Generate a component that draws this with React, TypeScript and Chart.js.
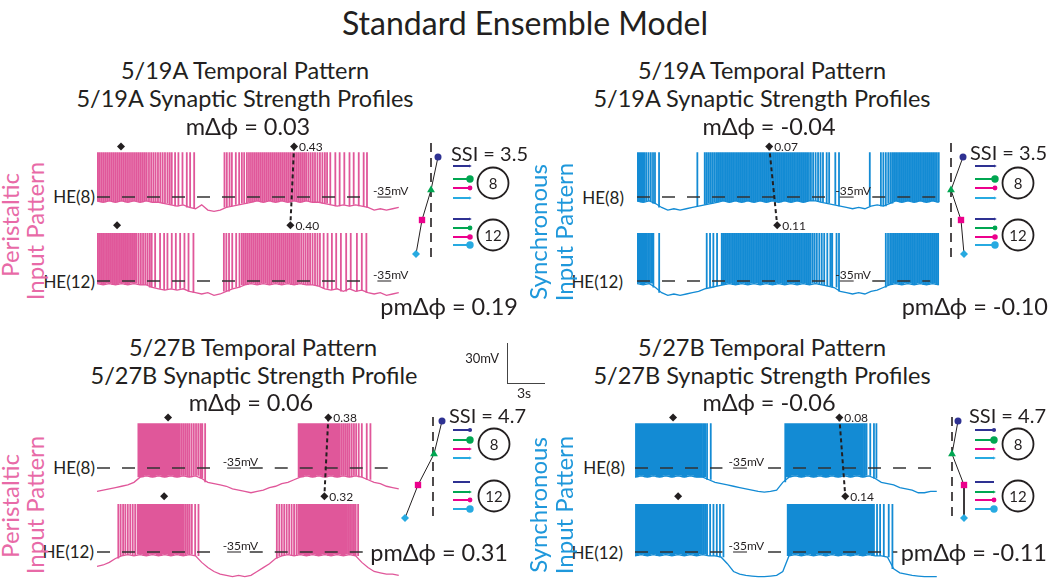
import React, { useEffect, useRef } from "react";
import { Chart, registerables } from "chart.js";
Chart.register(...registerables);

const FONT = "Lato, 'Noto Sans', 'DejaVu Sans', sans-serif";
const INK = "#231f20";
const PINK = "#e0579a";
const BLUE = "#138bd4";
const PINK_TXT = "#e86aa7";
const BLUE_TXT = "#1f98db";
const NAVY = "#2e3192";
const GREEN = "#00a651";
const MAGENTA = "#ec008c";
const CYAN = "#27aae1";

// ---------- trace data (time in s, membrane potential in mV) ----------
const DT = 0.5; // baseline sampling step (s)
const T_END = 24.6;
const REST = -35;
const HE12_OFFSET = 64.6;
const PEAK8 = -0.5;
const PEAK12 = 2;
const MARK8 = 4;
const MARK12 = 8;

// 5/19A peristaltic
const tlHe8Spikes = [0.05,0.2,0.36,0.52,0.68,0.84,1.0,1.16,1.32,1.48,1.64,1.8,1.96,2.12,2.28,2.44,2.6,2.76,2.92,3.08,3.24,3.4,3.56,3.72,3.88,4.04,4.22,4.4,4.58,4.76,4.95,5.14,5.33,5.52,5.72,5.9,6.07,6.34,6.61,6.94,7.29,7.56,7.89,10.35,10.54,10.76,10.95,11.27,11.54,11.76,11.95,12.17,12.34,12.5,12.66,12.82,12.98,13.14,13.3,13.46,13.62,13.78,13.94,14.1,14.26,14.42,14.58,14.74,14.9,15.06,15.22,15.38,15.54,15.7,15.86,16.02,16.18,16.34,16.5,16.66,16.82,16.98,17.16,17.34,17.52,17.7,17.9,18.1,18.3,18.5,18.68,18.94,19.35,19.7,20.08,20.5,20.84,21.25,21.65,21.92];
const tlHe8Base = [-38,-39,-38,-39,-38,-39,-38,-39,-38,-39,-39,-40,-41,-42,-41,-43,-44,-41,-45,-46,-45,-43,-42,-41,-40,-39,-38,-39,-38,-39,-38,-39,-38,-39,-38,-39,-39,-40,-41,-42,-41,-42,-41,-42,-43,-45,-44,-45,-44,-43];
const tlHe12Spikes = [0.05,0.2,0.35,0.5,0.65,0.8,0.95,1.1,1.25,1.4,1.55,1.7,1.85,2.0,2.15,2.3,2.45,2.6,2.75,2.9,3.05,3.2,3.38,3.56,3.74,3.92,4.1,4.28,4.44,4.72,5.12,5.45,5.72,6.07,6.4,6.75,7.1,7.43,7.83,10.3,10.5,10.72,10.98,11.3,11.57,11.76,11.92,12.08,12.24,12.4,12.56,12.72,12.88,13.04,13.2,13.36,13.52,13.68,13.84,14.0,14.16,14.32,14.48,14.64,14.8,14.96,15.12,15.28,15.44,15.6,15.76,15.92,16.08,16.24,16.4,16.58,16.76,16.94,17.12,17.3,17.5,17.7,17.9,18.1,18.4,18.72,19.07,19.42,19.8,20.23,20.6,21.1,21.5,21.87];
const tlHe12Base = [-37,-38,-37,-38,-37,-38,-37,-38,-38,-40,-41,-42,-41,-42,-41,-43,-44,-45,-44,-46,-45,-43,-41,-40,-38,-37,-38,-37,-38,-37,-38,-37,-38,-37,-38,-38,-39,-41,-42,-41,-43,-41,-43,-42,-44,-45,-44,-46,-45,-44];

// 5/19A synchronous
const trHe8Spikes = [0.05,0.18,0.32,0.46,0.6,0.76,0.94,1.12,1.3,1.46,1.79,4.9,5.5,5.66,5.82,5.98,6.14,6.3,6.46,6.61,6.76,6.91,7.06,7.21,7.36,7.51,7.66,7.81,7.96,8.11,8.26,8.41,8.56,8.71,8.86,9.01,9.16,9.31,9.46,9.61,9.76,9.91,10.06,10.21,10.36,10.51,10.66,10.81,10.96,11.11,11.26,11.41,11.56,11.71,11.86,12.01,12.16,12.31,12.46,12.61,12.76,12.91,13.06,13.21,13.36,13.51,13.66,13.81,13.96,14.12,14.3,14.5,14.7,14.9,15.1,15.4,15.6,16.1,16.4,18.9,19.8,20.0,20.2,20.4,20.58,20.74,20.89,21.04,21.19,21.34,21.49,21.64,21.79,21.94,22.09,22.24,22.39,22.54,22.69,22.84,22.99,23.14,23.29,23.44,23.59,23.74,23.89,24.04,24.19,24.34,24.5];
const trHe8Base = [-38,-39,-38,-40,-43,-45,-44,-45,-44,-43,-42,-41,-40,-39,-38,-39,-38,-39,-38,-39,-38,-39,-38,-39,-38,-39,-38,-39,-38,-38,-39,-40,-41,-42,-43,-44,-43,-44,-42,-41,-42,-40,-38,-39,-38,-39,-38,-39,-38,-39];
const trHe12Spikes = [0.05,0.19,0.33,0.47,0.61,0.75,0.9,1.05,1.2,1.33,1.8,5.66,5.93,6.2,6.5,6.88,7.03,7.18,7.33,7.48,7.63,7.78,7.93,8.08,8.23,8.38,8.53,8.68,8.83,8.98,9.13,9.28,9.43,9.58,9.73,9.88,10.03,10.18,10.33,10.48,10.63,10.78,10.93,11.08,11.23,11.38,11.53,11.68,11.83,11.98,12.13,12.28,12.43,12.58,12.73,12.88,13.03,13.18,13.33,13.48,13.63,13.78,13.93,14.08,14.25,14.42,14.6,14.8,15.0,15.2,15.45,15.7,15.85,16.2,16.4,20.2,20.38,20.55,20.7,20.85,21.0,21.15,21.3,21.45,21.6,21.75,21.9,22.05,22.2,22.35,22.5,22.65,22.8,22.95,23.1,23.25,23.4,23.55,23.7,23.85,24.0,24.15,24.3,24.45];
const trHe12Base = [-37,-38,-37,-40,-44,-46,-45,-46,-45,-44,-43,-41,-40,-39,-38,-37,-38,-37,-38,-37,-38,-37,-38,-37,-38,-37,-38,-37,-38,-37,-38,-39,-40,-43,-44,-45,-44,-45,-43,-42,-40,-38,-37,-38,-37,-38,-37,-38,-37,-38];

// 5/27B peristaltic
const blHe8Spikes = [3.36,3.5,3.62,3.74,3.86,3.98,4.1,4.22,4.34,4.46,4.58,4.7,4.82,4.94,5.06,5.18,5.3,5.42,5.54,5.66,5.78,5.9,6.02,6.14,6.28,6.42,6.56,6.7,6.86,7.02,7.18,7.34,7.5,7.68,7.86,8.04,8.22,8.4,8.55,8.78,16.37,16.5,16.62,16.74,16.86,16.98,17.1,17.22,17.34,17.46,17.58,17.7,17.82,17.94,18.06,18.18,18.3,18.42,18.54,18.66,18.78,18.9,19.02,19.14,19.28,19.42,19.56,19.7,19.86,20.02,20.18,20.34,20.5,20.68,20.86,21.04,21.25,21.5,21.9,22.2];
const blHe8Base = [-53,-52,-51,-50,-49,-48,-46,-42,-41,-42,-41,-42,-41,-42,-41,-42,-41,-43,-46,-47,-48,-49,-51,-52,-53,-54,-53,-52,-50,-49,-47,-46,-44,-42,-41,-42,-41,-42,-41,-42,-41,-42,-41,-42,-44,-46,-47,-49,-50,-51];
const blHe12Spikes = [1.73,1.92,2.12,2.3,2.5,2.7,2.9,3.1,3.3,3.42,3.54,3.66,3.78,3.9,4.02,4.14,4.26,4.38,4.5,4.62,4.74,4.86,4.98,5.1,5.22,5.34,5.46,5.58,5.7,5.82,5.94,6.06,6.18,6.3,6.42,6.54,6.66,6.78,6.9,7.04,7.2,7.36,7.52,7.7,7.97,8.24,14.6,14.8,15.0,15.2,15.4,15.6,15.8,16.0,16.2,16.37,16.49,16.61,16.73,16.85,16.97,17.09,17.21,17.33,17.45,17.57,17.69,17.81,17.93,18.05,18.17,18.29,18.41,18.53,18.65,18.77,18.89,19.01,19.13,19.25,19.37,19.49,19.61,19.73,19.85,19.97,20.11,20.25,20.4,20.55,20.7,20.85,21.0,21.2];
const blHe12Base = [-46,-45,-43,-40,-38,-37,-38,-37,-38,-37,-38,-37,-38,-37,-38,-37,-38,-43,-47,-50,-52,-53,-54,-53,-54,-53,-50,-47,-44,-40,-38,-37,-38,-37,-38,-37,-38,-37,-38,-37,-38,-37,-38,-43,-47,-50,-51,-52,-52,-53];

// 5/27B synchronous
const brHe8Spikes = [0.08,0.22,0.36,0.5,0.64,0.78,0.92,1.06,1.2,1.34,1.48,1.62,1.76,1.9,2.04,2.18,2.32,2.46,2.6,2.74,2.88,3.02,3.16,3.3,3.44,3.58,3.72,3.86,4.0,4.14,4.28,4.42,4.56,4.7,4.84,4.98,5.12,5.26,5.4,5.55,5.69,5.85,6.15,12.2,12.34,12.48,12.62,12.76,12.9,13.04,13.18,13.32,13.46,13.6,13.74,13.88,14.02,14.16,14.3,14.44,14.58,14.72,14.86,15.0,15.14,15.28,15.42,15.56,15.7,15.84,15.98,16.12,16.26,16.4,16.54,16.68,16.82,16.96,17.1,17.24,17.38,17.52,17.66,17.8,17.94,18.08,18.22,18.36,18.5,18.65,18.8,19.1,19.4,19.6];
const brHe8Base = [-42,-41,-42,-41,-42,-41,-42,-41,-42,-41,-42,-42,-44,-46,-47,-48,-49,-50,-51,-52,-53,-53.5,-53,-52,-46,-42,-41,-42,-41,-42,-41,-42,-41,-42,-41,-42,-41,-42,-41,-43,-46,-47,-48,-50,-51,-52,-54,-54,-53,-53];
const brHe12Spikes = [0.08,0.22,0.36,0.5,0.64,0.78,0.92,1.06,1.2,1.34,1.48,1.62,1.76,1.9,2.04,2.18,2.32,2.46,2.6,2.74,2.88,3.02,3.16,3.3,3.44,3.58,3.72,3.86,4.0,4.14,4.28,4.42,4.56,4.7,4.84,4.98,5.12,5.26,5.4,5.55,5.7,5.85,6.1,6.37,6.64,6.9,7.18,12.4,12.54,12.68,12.82,12.96,13.1,13.24,13.38,13.52,13.66,13.8,13.94,14.08,14.22,14.36,14.5,14.64,14.78,14.92,15.06,15.2,15.34,15.48,15.62,15.76,15.9,16.04,16.18,16.32,16.46,16.6,16.74,16.88,17.02,17.16,17.3,17.44,17.58,17.72,17.86,18.0,18.14,18.28,18.42,18.56,18.7,18.84,18.98,19.12,19.26,19.4,19.65,19.9,20.2,20.6,20.9];
const brHe12Base = [-38,-37,-38,-37,-38,-37,-38,-37,-38,-37,-38,-37,-38,-38,-39,-44,-50,-52,-53,-53.5,-54,-54,-53.5,-53,-50,-38,-37,-38,-37,-38,-37,-38,-37,-38,-37,-38,-37,-38,-37,-38,-38,-39,-48,-51,-52,-53,-53.5,-54,-54,-54];

// burst-phase markers (s)
const tlMarks8 = [1.95]; const tlMarks12 = [1.63];
const trMarks8: number[] = []; const trMarks12: number[] = [];
const blMarks8 = [5.77]; const blMarks12 = [5.45];
const brMarks8 = [3.09]; const brMarks12 = [3.5];
const tlPhaseT = [16.0, 15.7]; const tlPhaseVal = [0.43, 0.40];
const trPhaseT = [10.73, 11.38]; const trPhaseVal = [0.07, 0.11];
const blPhaseT = [18.78, 18.46]; const blPhaseVal = [0.38, 0.32];
const brPhaseT = [16.59, 17.07]; const brPhaseVal = [0.08, 0.14];

// -35 mV reference segments (s)
const tlRef8 = [[0, 21.6]]; const tlRef12 = [[0, 21.6]];
const trRef8 = [[0, 15.5], [19.1, 24.6]]; const trRef12 = [[0, 15.5], [19.1, 23.8]];
const blRef8 = [[0, 9.6], [12.4, 23.8]]; const blRef12 = [[0, 9.6], [12.4, 21.6]];
const brRef8 = [[0, 7.1], [10.8, 24.4]]; const brRef12 = [[0, 7.1], [10.8, 21.3]];

// input phases relative to the reference input – navy, green, magenta, cyan
const phaseTL = [0.07, 0, -0.09, -0.15];
const phaseTR = [0.12, 0, 0.10, 0.13];
const phaseBL = [0.09, 0.01, -0.15, -0.28];
const phaseBR = [0.06, 0, 0.12, 0.12];
// relative synaptic strengths onto HE(8) / HE(12)
const syn519He8 = [0.15, 1.0, 0.45, 0.15];
const syn519He12 = [0.15, 0.45, 0.6, 1.0];
const syn527He8 = [0.3, 1.0, 0.2, 0.2];
const syn527He12 = [0, 0.2, 0.45, 1.0];

// ---------- helpers ----------
function baseLine(base: number[], off: number) {
  return base.map((v, i) => ({ x: i * DT, y: v + off }));
}
function spikeLines(spk: number[], base: number[], peak: number, off: number) {
  const pts: any[] = [];
  spk.forEach((s) => {
    const b = base[Math.min(base.length - 1, Math.max(0, Math.round(s / DT)))] + off;
    pts.push({ x: s, y: b }, { x: s, y: peak + off }, { x: s, y: null });
  });
  return pts;
}
function refLine(segs: number[][], off: number) {
  const pts: any[] = [];
  segs.forEach(([a, b]) => {
    pts.push({ x: a, y: REST + off }, { x: b, y: REST + off }, { x: b, y: null });
  });
  return pts;
}

const PX_PER_S = 303 / T_END;
const TRACE_W = 335, TRACE_H = 178, Y_MAX = 12, Y_MIN = -125;

type TraceCfg = {
  left: number; top: number; color: string;
  spk8: number[]; base8: number[]; spk12: number[]; base12: number[];
  marks8: number[]; marks12: number[]; phT: number[]; phV: number[];
  ref8: number[][]; ref12: number[][]; mvT: number;
};

const baseOpts = {
  animation: false, responsive: true, maintainAspectRatio: false, events: [],
  layout: { padding: 0, autoPadding: false },
  plugins: { legend: { display: false }, tooltip: { enabled: false } },
};

function TraceChart({ cfg }: { cfg: TraceCfg }) {
  const ref = useRef<HTMLCanvasElement>(null);
  useEffect(() => {
    const off12 = -HE12_OFFSET;
    const labelPlugin = {
      id: "traceText",
      afterDatasetsDraw(chart: any) {
        const { ctx, scales } = chart;
        const x = scales.x, y = scales.y;
        ctx.save();
        ctx.fillStyle = INK;
        ctx.font = `12px ${FONT}`;
        ctx.textAlign = "left";
        ctx.textBaseline = "middle";
        ctx.fillText(cfg.phV[0].toFixed(2), x.getPixelForValue(cfg.phT[0]) + 5, y.getPixelForValue(MARK8) + 1);
        ctx.fillText(cfg.phV[1].toFixed(2), x.getPixelForValue(cfg.phT[1]) + 5, y.getPixelForValue(MARK12 + off12) + 1);
        ctx.textBaseline = "alphabetic";
        [0, off12].forEach((o) => {
          const px = x.getPixelForValue(cfg.mvT);
          const py = y.getPixelForValue(REST + o);
          const w1 = ctx.measureText("-").width;
          const w2 = ctx.measureText("35").width;
          ctx.fillText("-35mV", px, py - 2);
          ctx.fillRect(px + w1, py - 0.5, w2, 1);
        });
        ctx.restore();
      },
    };
    const dashColor = "#333";
    const datasets: any[] = [
      { data: refLine(cfg.ref8, 0), borderColor: dashColor, borderWidth: 1.6, borderDash: [13, 12], pointRadius: 0, spanGaps: false, order: 1 },
      { data: refLine(cfg.ref12, off12), borderColor: dashColor, borderWidth: 1.6, borderDash: [13, 12], pointRadius: 0, spanGaps: false, order: 1 },
      { data: [{ x: cfg.phT[0], y: MARK8 }, { x: cfg.phT[1], y: MARK12 + off12 }], borderColor: INK, borderWidth: 2, borderDash: [4, 3], pointRadius: 4, pointStyle: "rectRot", pointBackgroundColor: INK, pointBorderWidth: 0, order: 0 },
      { data: [...cfg.marks8.map((t) => ({ x: t, y: MARK8 })), ...cfg.marks12.map((t) => ({ x: t, y: MARK12 + off12 }))], showLine: false, pointRadius: 4, pointStyle: "rectRot", pointBackgroundColor: INK, pointBorderWidth: 0, order: 0 },
      { data: spikeLines(cfg.spk8, cfg.base8, PEAK8, 0), borderColor: cfg.color, borderWidth: 1.8, pointRadius: 0, spanGaps: false, order: 2 },
      { data: spikeLines(cfg.spk12, cfg.base12, PEAK12, off12), borderColor: cfg.color, borderWidth: 1.8, pointRadius: 0, spanGaps: false, order: 2 },
      { data: baseLine(cfg.base8, 0), borderColor: cfg.color, borderWidth: 1.3, pointRadius: 0, tension: 0, order: 3 },
      { data: baseLine(cfg.base12, off12), borderColor: cfg.color, borderWidth: 1.3, pointRadius: 0, tension: 0, order: 3 },
    ];
    const chart = new Chart(ref.current as HTMLCanvasElement, {
      type: "line",
      data: { datasets },
      options: {
        ...baseOpts,
        scales: {
          x: { type: "linear", min: 0, max: TRACE_W / PX_PER_S, display: false },
          y: { type: "linear", min: Y_MIN, max: Y_MAX, display: false },
        },
      } as any,
      plugins: [labelPlugin],
    });
    return () => chart.destroy();
  }, []);
  return (
    <div style={{ position: "absolute", left: cfg.left, top: cfg.top, width: TRACE_W, height: TRACE_H }}>
      <canvas ref={ref} />
    </div>
  );
}

type DiagLayout = { dash: number[]; rows: number[]; arr8: number[]; arr12: number[]; circ: number[] };
const TOP_LAY: DiagLayout = { dash: [5, 122], rows: [19, 52, 82, 116], arr8: [28, 41, 50, 60], arr12: [81, 90, 99, 107], circ: [45, 97] };
const BOT_LAY: DiagLayout = { dash: [5, 110], rows: [9, 42, 73, 106], arr8: [18, 28, 37, 46], arr12: [70, 80, 88, 97], circ: [32, 84] };

function Diagram({ left, top, phase, syn8, syn12, lay, xs }: any) {
  const ref = useRef<HTMLCanvasElement>(null);
  useEffect(() => {
    const cols = [NAVY, GREEN, MAGENTA, CYAN];
    const arrow = (row: number, s: number, c: string) => ({
      data: [{ x: xs.a0, y: row }, { x: xs.a1, y: row }],
      borderColor: c, borderWidth: 2,
      pointRadius: [0, s > 0 ? 1.4 + 2.3 * s : 0],
      pointStyle: s < 0.25 ? "triangle" : "circle",
      pointRotation: 90,
      pointBackgroundColor: c, pointBorderWidth: 0, order: 1,
    });
    const datasets: any[] = [
      { data: [{ x: 0, y: lay.dash[0] }, { x: 0, y: lay.dash[1] }], borderColor: INK, borderWidth: 1.6, borderDash: [9, 6], pointRadius: 0, order: 3 },
      {
        data: phase.map((p: number, i: number) => ({ x: p, y: lay.rows[i] })),
        borderColor: INK, borderWidth: 1,
        pointStyle: ["circle", "triangle", "rect", "rectRot"], pointRadius: [3.5, 4.5, 4.5, 4],
        pointBackgroundColor: cols, pointBorderWidth: 0, order: 0,
      },
      ...syn8.map((s: number, i: number) => arrow(lay.arr8[i], s, cols[i])),
      ...syn12.map((s: number, i: number) => arrow(lay.arr12[i], s, cols[i])),
      { data: [{ x: xs.c, y: lay.circ[0] }, { x: xs.c, y: lay.circ[1] }], showLine: false, pointRadius: 15.5, pointBackgroundColor: "rgba(0,0,0,0)", pointBorderColor: INK, pointBorderWidth: 1.8, order: 2 },
    ];
    const circPlugin = {
      id: "circText",
      afterDatasetsDraw(chart: any) {
        const { ctx, scales } = chart;
        ctx.save();
        ctx.fillStyle = INK;
        ctx.font = `15px ${FONT}`;
        ctx.textAlign = "center";
        ctx.textBaseline = "middle";
        ["8", "12"].forEach((t, i) => ctx.fillText(t, scales.x.getPixelForValue(xs.c), scales.y.getPixelForValue(lay.circ[i]) + 1));
        ctx.restore();
      },
    };
    const chart = new Chart(ref.current as HTMLCanvasElement, {
      type: "line",
      data: { datasets },
      options: {
        ...baseOpts,
        scales: {
          x: { type: "linear", min: -0.35, max: 0.85, display: false },
          y: { type: "linear", min: 0, max: 130, reverse: true, display: false },
        },
      } as any,
      plugins: [circPlugin],
    });
    return () => chart.destroy();
  }, []);
  return (
    <div style={{ position: "absolute", left, top, width: 120, height: 130 }}>
      <canvas ref={ref} />
    </div>
  );
}

function Txt({ x, y, size, color = INK, align = "center", rot = false, children }: any) {
  const tx = align === "center" ? "-50%" : align === "right" ? "-100%" : "0";
  return (
    <div
      style={{
        position: "absolute", left: x, top: y, fontSize: size, color, lineHeight: 1,
        whiteSpace: "nowrap", fontFamily: FONT,
        transform: `translate(${tx},-50%)${rot ? " rotate(-90deg)" : ""}`,
      }}
    >
      {children}
    </div>
  );
}

const PHI = "m\u0394\u03D5";

export default function App() {
  const panels: TraceCfg[] = [
    { left: 97, top: 136, color: PINK, spk8: tlHe8Spikes, base8: tlHe8Base, spk12: tlHe12Spikes, base12: tlHe12Base, marks8: tlMarks8, marks12: tlMarks12, phT: tlPhaseT, phV: tlPhaseVal, ref8: tlRef8, ref12: tlRef12, mvT: 22.4 },
    { left: 637, top: 136, color: BLUE, spk8: trHe8Spikes, base8: trHe8Base, spk12: trHe12Spikes, base12: trHe12Base, marks8: trMarks8, marks12: trMarks12, phT: trPhaseT, phV: trPhaseVal, ref8: trRef8, ref12: trRef12, mvT: 16.1 },
    { left: 97, top: 407, color: PINK, spk8: blHe8Spikes, base8: blHe8Base, spk12: blHe12Spikes, base12: blHe12Base, marks8: blMarks8, marks12: blMarks12, phT: blPhaseT, phV: blPhaseVal, ref8: blRef8, ref12: blRef12, mvT: 10.2 },
    { left: 635, top: 407, color: BLUE, spk8: brHe8Spikes, base8: brHe8Base, spk12: brHe12Spikes, base12: brHe12Base, marks8: brMarks8, marks12: brMarks12, phT: brPhaseT, phV: brPhaseVal, ref8: brRef8, ref12: brRef12, mvT: 7.6 },
  ];
  const H = 23.5, HE = 17, PM = 23.5, SSI = 20, SIDE = 24;
  return (
    <div style={{ position: "absolute", left: 0, top: 0, width: 1050, height: 579, overflow: "hidden", background: "#fff", fontFamily: FONT }}>
      {panels.map((p, i) => <TraceChart key={i} cfg={p} />)}
      <Diagram left={396} top={138} phase={phaseTL} syn8={syn519He8} syn12={syn519He12} lay={TOP_LAY} xs={{ a0: 0.22, a1: 0.39, c: 0.62 }} />
      <Diagram left={916} top={138} phase={phaseTR} syn8={syn519He8} syn12={syn519He12} lay={TOP_LAY} xs={{ a0: 0.24, a1: 0.44, c: 0.67 }} />
      <Diagram left={398} top={412} phase={phaseBL} syn8={syn527He8} syn12={syn527He12} lay={BOT_LAY} xs={{ a0: 0.2, a1: 0.37, c: 0.61 }} />
      <Diagram left={917} top={412} phase={phaseBR} syn8={syn527He8} syn12={syn527He12} lay={BOT_LAY} xs={{ a0: 0.23, a1: 0.42, c: 0.66 }} />

      <Txt x={525} y={23} size={32}>Standard Ensemble Model</Txt>

      <Txt x={245} y={71} size={H}>5/19A Temporal Pattern</Txt>
      <Txt x={245} y={99} size={H}>5/19A Synaptic Strength Profiles</Txt>
      <Txt x={248} y={127} size={H}>{PHI} = 0.03</Txt>
      <Txt x={762} y={71} size={H}>5/19A Temporal Pattern</Txt>
      <Txt x={762} y={99} size={H}>5/19A Synaptic Strength Profiles</Txt>
      <Txt x={769} y={127} size={H}>{PHI} = -0.04</Txt>
      <Txt x={253} y={348} size={H}>5/27B Temporal Pattern</Txt>
      <Txt x={254} y={376} size={H}>5/27B Synaptic Strength Profile</Txt>
      <Txt x={251} y={403} size={H}>{PHI} = 0.06</Txt>
      <Txt x={762} y={348} size={H}>5/27B Temporal Pattern</Txt>
      <Txt x={762} y={376} size={H}>5/27B Synaptic Strength Profiles</Txt>
      <Txt x={769} y={403} size={H}>{PHI} = -0.06</Txt>

      <Txt x={95} y={196} size={HE} align="right">HE(8)</Txt>
      <Txt x={95} y={281} size={HE} align="right">HE(12)</Txt>
      <Txt x={624} y={197} size={HE} align="right">HE(8)</Txt>
      <Txt x={623} y={281} size={HE} align="right">HE(12)</Txt>
      <Txt x={95} y={467} size={HE} align="right">HE(8)</Txt>
      <Txt x={94} y={551} size={HE} align="right">HE(12)</Txt>
      <Txt x={625} y={467} size={HE} align="right">HE(8)</Txt>
      <Txt x={623} y={552} size={HE} align="right">HE(12)</Txt>

      <Txt x={10} y={225} size={SIDE} color={PINK_TXT} rot>Peristaltic</Txt>
      <Txt x={35} y={231} size={SIDE} color={PINK_TXT} rot>Input Pattern</Txt>
      <Txt x={538} y={232} size={SIDE} color={BLUE_TXT} rot>Synchronous</Txt>
      <Txt x={564} y={232} size={SIDE} color={BLUE_TXT} rot>Input Pattern</Txt>
      <Txt x={10} y={506} size={SIDE} color={PINK_TXT} rot>Peristaltic</Txt>
      <Txt x={35} y={505} size={SIDE} color={PINK_TXT} rot>Input Pattern</Txt>
      <Txt x={538} y={505} size={SIDE} color={BLUE_TXT} rot>Synchronous</Txt>
      <Txt x={564} y={505} size={SIDE} color={BLUE_TXT} rot>Input Pattern</Txt>

      <Txt x={528} y={153} size={SSI} align="right">SSI = 3.5</Txt>
      <Txt x={1047} y={152} size={SSI} align="right">SSI = 3.5</Txt>
      <Txt x={526} y={415} size={SSI} align="right">SSI = 4.7</Txt>
      <Txt x={1046} y={415} size={SSI} align="right">SSI = 4.7</Txt>

      <Txt x={518} y={307} size={PM} align="right">p{PHI} = 0.19</Txt>
      <Txt x={1048} y={307} size={PM} align="right">p{PHI} = -0.10</Txt>
      <Txt x={508} y={553} size={PM} align="right">p{PHI} = 0.31</Txt>
      <Txt x={1047} y={553} size={PM} align="right">p{PHI} = -0.11</Txt>

      <div style={{ position: "absolute", left: 507, top: 343, width: 1, height: 40, background: "#444" }} />
      <div style={{ position: "absolute", left: 507, top: 383, width: 38, height: 1, background: "#444" }} />
      <Txt x={499} y={358} size={13} align="right">30mV</Txt>
      <Txt x={524} y={393} size={14}>3s</Txt>
    </div>
  );
}
